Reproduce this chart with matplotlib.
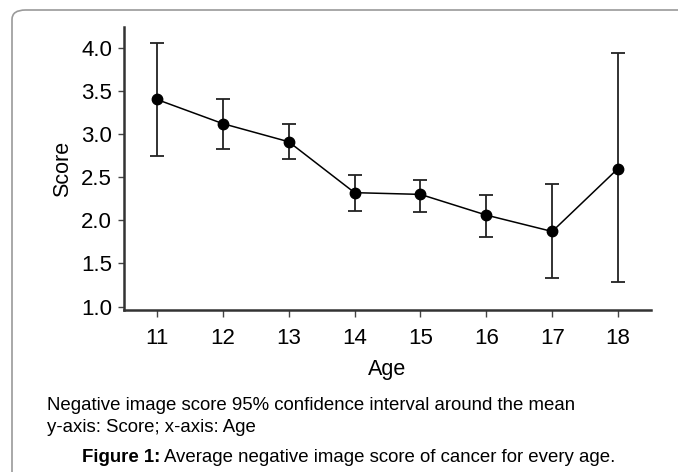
import matplotlib
matplotlib.use("Agg")
from matplotlib import pyplot as plt
from matplotlib.patches import FancyBboxPatch

plt.rcParams['font.family'] = ['Liberation Sans', 'DejaVu Sans']

# 数据
ages = [11, 12, 13, 14, 15, 16, 17, 18]
score_mean = [3.40, 3.12, 2.91, 2.32, 2.30, 2.06, 1.87, 2.60]
ci_upper = [4.06, 3.40, 3.11, 2.52, 2.47, 2.29, 2.42, 3.94]
ci_lower = [2.74, 2.83, 2.71, 2.11, 2.10, 1.81, 1.33, 1.28]
y_ticks = [1.0, 1.5, 2.0, 2.5, 3.0, 3.5, 4.0]

W, H = 678, 472
fig = plt.figure(figsize=(W / 100, H / 100), dpi=100)

# 外框
box = FancyBboxPatch((12 / W, -0.2), 2, 1 - 10 / H + 0.2,
                     boxstyle="round,pad=0,rounding_size=0.02",
                     transform=fig.transFigure, fill=False,
                     edgecolor='#9a9a9a', linewidth=1.2)
fig.patches.append(box)

ax = fig.add_axes([124 / W, 1 - 310 / H, (651 - 124) / W, (310 - 27) / H])

err = [[m - lo for m, lo in zip(score_mean, ci_lower)],
       [hi - m for m, hi in zip(score_mean, ci_upper)]]
ax.errorbar(ages, score_mean, yerr=err, fmt='-o', color='black',
            ecolor='#222222', elinewidth=1.3, capsize=4.7, capthick=1.3,
            markersize=7.5, linewidth=1.1)

ax.set_xlim(10.5, 18.5)
ax.set_ylim(0.96, 4.24)
ax.set_xticks(ages)
ax.set_yticks(y_ticks)
ax.set_yticklabels([f"{v:.1f}" for v in y_ticks])

for s in ['top', 'right']:
    ax.spines[s].set_visible(False)
for s in ['left', 'bottom']:
    ax.spines[s].set_linewidth(1.8)
    ax.spines[s].set_color('#333333')
ax.tick_params(axis='y', direction='out', length=4.3, width=1.0, color='#444444',
               labelsize=16, pad=4.3)
ax.tick_params(axis='x', direction='out', length=5, width=1.0, color='#444444',
               labelsize=16, pad=8)

ax.set_ylabel('Score', fontsize=15.5, labelpad=5.5)
ax.set_xlabel('Age', fontsize=15.5, labelpad=7)

fs = 13.4
fig.text(47 / W, 1 - 405 / H, 'Negative image score 95% confidence interval around the mean',
         fontsize=fs, va='center', ha='left')
fig.text(47 / W, 1 - 428 / H, 'y-axis: Score; x-axis: Age',
         fontsize=fs, va='center', ha='left')
t_bold = fig.text(82 / W, 1 - 458 / H, 'Figure 1:', fontsize=fs, va='center', ha='left',
                  fontweight='bold')
fig.canvas.draw()
bb = t_bold.get_window_extent()
fig.text((bb.x1 + 4) / W, 1 - 458 / H, 'Average negative image score of cancer for every age.',
         fontsize=fs, va='center', ha='left')

fig.savefig('out.png', dpi=100)
